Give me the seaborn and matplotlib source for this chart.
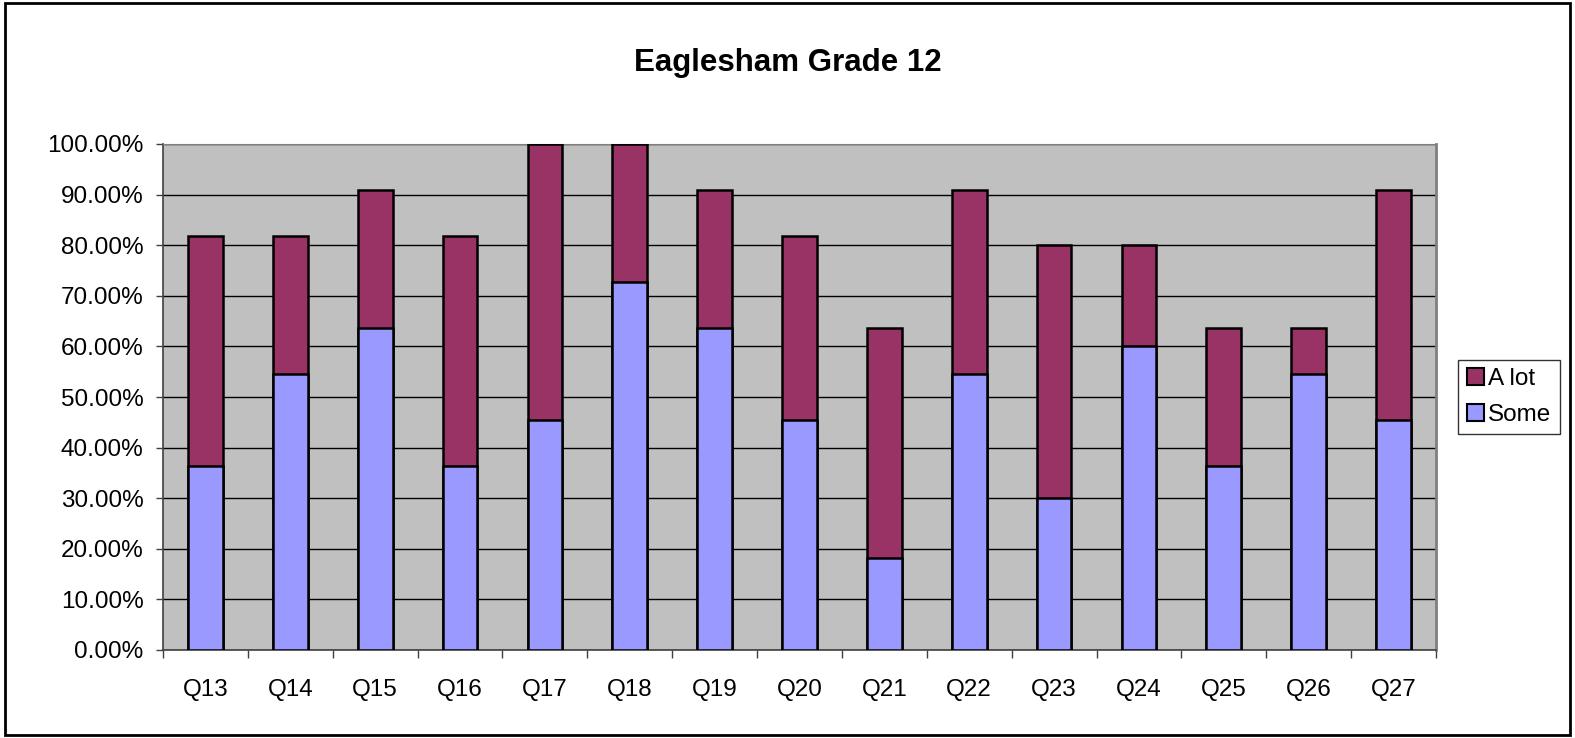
import matplotlib
matplotlib.use("Agg")
import matplotlib.pyplot as plt
import matplotlib.patches as mpatches
import numpy as np
import pandas as pd
import seaborn as sns

questions = ['Q13', 'Q14', 'Q15', 'Q16', 'Q17', 'Q18', 'Q19', 'Q20',
             'Q21', 'Q22', 'Q23', 'Q24', 'Q25', 'Q26', 'Q27']
some = [36.36, 54.55, 63.64, 36.36, 45.45, 72.73, 63.64, 45.45,
        18.18, 54.55, 30.00, 60.00, 36.36, 54.55, 45.45]
a_lot = [45.45, 27.27, 27.27, 45.45, 54.55, 27.27, 27.27, 36.36,
         45.45, 36.36, 50.00, 20.00, 27.27, 9.09, 45.45]

df = pd.DataFrame({'question': questions, 'Some': some, 'A lot': a_lot})
df['total'] = df['Some'] + df['A lot']

sns.set_style("white")
plt.rcParams['font.family'] = ['Liberation Sans', 'DejaVu Sans']
plt.rcParams['text.color'] = 'black'
plt.rcParams['xtick.color'] = 'black'
plt.rcParams['ytick.color'] = 'black'

fig = plt.figure(figsize=(15.75, 7.38), dpi=100)
ax = fig.add_axes([163 / 1575, 1 - 650 / 738, (1436 - 163) / 1575, (650 - 144) / 738])
ax.set_facecolor('#C0C0C0')

# stacked: draw totals first, then the lower segment on top
sns.barplot(data=df, x='question', y='total', color='#993366', width=0.41,
            edgecolor='black', linewidth=1.8, saturation=1, ax=ax, zorder=3)
sns.barplot(data=df, x='question', y='Some', color='#9999FF', width=0.41,
            edgecolor='black', linewidth=1.8, saturation=1, ax=ax, zorder=4)

ax.set_ylim(0, 100)
ax.set_xlim(-0.5, 14.5)
ax.set_yticks(np.arange(0, 101, 10))
ax.set_yticklabels([f'{v:.2f}%' for v in np.arange(0, 101, 10)], fontsize=17.5)
ax.yaxis.grid(True, color='black', linewidth=1)
ax.set_axisbelow(True)
ax.tick_params(axis='y', direction='out', length=5, width=1, color='#404040',
               left=True, labelcolor='black', pad=9)

ax.set_xticks(range(len(questions)))
ax.set_xticklabels(questions, fontsize=17.5)
ax.set_xticks(np.arange(-0.5, len(questions)), minor=True)
ax.tick_params(axis='x', which='major', length=0, pad=21, labelcolor='black')
ax.tick_params(axis='x', which='minor', direction='out', length=5.5, width=1,
               color='#404040', bottom=True)
ax.set_xlabel('')
ax.set_ylabel('')

for side in ['left', 'bottom']:
    ax.spines[side].set_color('#404040')
    ax.spines[side].set_linewidth(1.2)
ax.spines['top'].set_color('#808080')
ax.spines['right'].set_color('#808080')
ax.spines['right'].set_linewidth(2)

fig.text(0.5, 1 - 71 / 738, 'Eaglesham Grade 12', ha='center', va='baseline',
         fontsize=22.5, fontweight='bold', color='black')

handles = [mpatches.Patch(facecolor='#993366', edgecolor='black', linewidth=1.5, label='A lot'),
           mpatches.Patch(facecolor='#9999FF', edgecolor='black', linewidth=1.5, label='Some')]
leg = fig.legend(handles=handles, loc='center left',
                 bbox_to_anchor=(1458 / 1575, 1 - 397 / 738), fontsize=17.5,
                 frameon=True, fancybox=False, edgecolor='black',
                 handlelength=0.7, handleheight=0.7, handletextpad=0.2,
                 borderpad=0.35, labelspacing=0.55, borderaxespad=0)
leg.get_frame().set_linewidth(1)

fig.patches.append(mpatches.Rectangle((5 / 1575, 3 / 738), 1 - 10 / 1575, 1 - 6 / 738,
                                      transform=fig.transFigure, fill=False,
                                      edgecolor='black', linewidth=2))

fig.savefig('out.png', dpi=100)
